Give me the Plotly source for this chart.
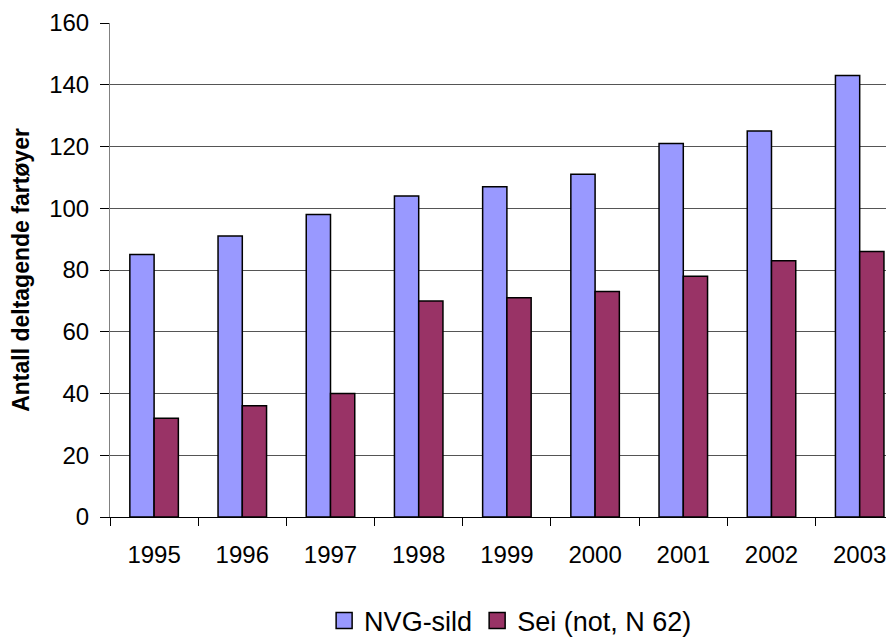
import plotly.graph_objects as go

years = ["1995", "1996", "1997", "1998", "1999", "2000", "2001", "2002", "2003"]
nvg_sild = [85, 91, 98, 104, 107, 111, 121, 125, 143]
sei = [32, 36, 40, 70, 71, 73, 78, 83, 86]
series_names = ["NVG-sild", "Sei (not, N 62)"]
colors = ["#9999FF", "#993366"]

fig = go.Figure()
for vals, name, col in zip([nvg_sild, sei], series_names, colors):
    fig.add_trace(go.Bar(x=years, y=vals, name=name, showlegend=False,
                         marker=dict(color=col, line=dict(color="black", width=1.5))))
# legend entries with larger square swatches
for name, col in zip(series_names, colors):
    fig.add_trace(go.Scatter(x=[None], y=[None], mode="markers", name=name,
                             marker=dict(symbol="square", size=16, color=col,
                                         line=dict(color="black", width=1.5))))

fig.update_layout(
    width=886, height=631,
    paper_bgcolor="white", plot_bgcolor="white",
    margin=dict(l=102, r=0, t=15, b=122, autoexpand=False),
    barmode="group", bargap=0.45, bargroupgap=0,
    font=dict(family="Liberation Sans, Arial", size=24, color="black"),
    showlegend=True,
    legend=dict(orientation="h", x=0.511, xanchor="center", y=-0.2105, yanchor="middle",
                font=dict(size=27), itemsizing="trace"),
)
fig.update_xaxes(
    type="category", range=[-0.5, 8.389],
    showline=True, linecolor="black", linewidth=1,
    ticks="outside", tickson="boundaries", ticklen=8, tickcolor="black",
    showgrid=False, tickfont=dict(size=24), ticklabelstandoff=16,
)
fig.update_yaxes(
    range=[0, 160], dtick=20,
    showline=True, linecolor="#808080", linewidth=1,
    ticks="outside", ticklen=9, tickcolor="black",
    showgrid=True, gridcolor="#555555", gridwidth=1,
    zeroline=False, tickfont=dict(size=24), ticklabelstandoff=6,
    title=dict(text="Antall deltagende fartøyer",
               font=dict(size=23, family="Liberation Sans, Arial", weight="bold"),
               standoff=14),
)

fig.write_html("out.html")
